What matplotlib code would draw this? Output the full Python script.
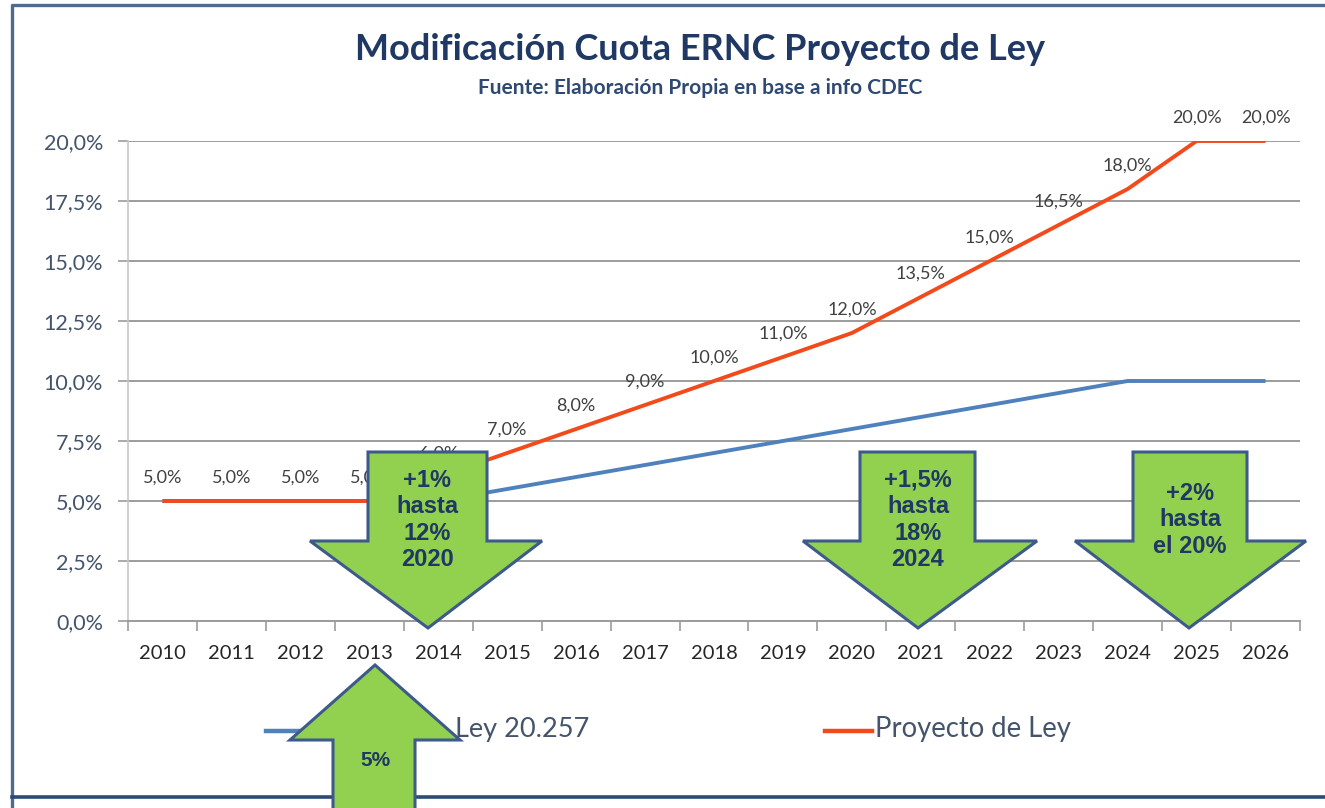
import matplotlib
matplotlib.use("Agg")
import matplotlib.pyplot as plt
from matplotlib.patches import Polygon
from matplotlib.transforms import Affine2D
from matplotlib.lines import Line2D

# ---------------- data ----------------
years = ["2010", "2011", "2012", "2013", "2014", "2015", "2016", "2017", "2018",
         "2019", "2020", "2021", "2022", "2023", "2024", "2025", "2026"]
ley_20257 = [5.0, 5.0, 5.0, 5.0, 5.0, 5.5, 6.0, 6.5, 7.0, 7.5, 8.0, 8.5, 9.0,
             9.5, 10.0, 10.0, 10.0]
proyecto = [5.0, 5.0, 5.0, 5.0, 6.0, 7.0, 8.0, 9.0, 10.0, 11.0, 12.0, 13.5,
            15.0, 16.5, 18.0, 20.0, 20.0]
y_ticks = [0.0, 2.5, 5.0, 7.5, 10.0, 12.5, 15.0, 17.5, 20.0]
series_names = ["Ley 20.257", "Proyecto de Ley"]
title = "Modificación Cuota ERNC Proyecto de Ley"
subtitle = "Fuente: Elaboración Propia en base a info CDEC"
arrow_texts = ["+1%\nhasta\n12%\n2020", "+1,5%\nhasta\n18%\n2024", "+2%\nhasta\nel 20%"]
up_arrow_text = "5%"

W, H = 1325, 808
fig = plt.figure(figsize=(W / 100, H / 100), dpi=100)
fig.patch.set_facecolor("white")

# pixel transform (origin top-left)
px = Affine2D().scale(1 / W, -1 / H).translate(0, 1) + fig.transFigure

FONT = "Lato"
NAVY = "#1F3864"
BLUE = "#4F81BD"
ORANGE = "#F24A1B"
GREEN = "#92D050"
EDGE = "#3D5A8A"
GRID = "#9C9C9C"

ax = fig.add_axes([128 / W, 1 - 621 / H, (1300 - 128) / W, (621 - 141) / H])
x = list(range(len(years)))
ax.plot(x, ley_20257, color=BLUE, lw=2.8, solid_capstyle="butt", zorder=3)
ax.plot(x, proyecto, color=ORANGE, lw=2.8, solid_capstyle="butt", zorder=4)

for xi, v in zip(x, proyecto):
    ax.annotate(f"{v:.1f}%".replace(".", ","), (xi, v), xytext=(0, 17),
                textcoords="offset points", ha="center", va="center",
                fontsize=13, color="#404040", family=FONT, zorder=5)

ax.set_xlim(-0.5, len(years) - 0.5)
ax.set_ylim(0, 20)
ax.set_yticks(y_ticks)
ax.set_yticklabels([f"{t:.1f}%".replace(".", ",") for t in y_ticks],
                   fontsize=15.5, color="#44546A", family=FONT)
ax.set_xticks(x)
ax.set_xticklabels(years, fontsize=14.5, color="#262626", family=FONT)
ax.set_xticks([i - 0.5 for i in range(len(years) + 1)], minor=True)
ax.tick_params(axis="x", which="major", length=0, pad=17)
ax.tick_params(axis="x", which="minor", length=7, color=GRID, width=1.2)
ax.tick_params(axis="y", length=7, color=GRID, width=1.2, pad=11)
ax.yaxis.grid(True, color=GRID, lw=1.4)
ax.set_axisbelow(True)
for s in ["top", "right"]:
    ax.spines[s].set_visible(False)
ax.spines["left"].set_color("#C8C8C8")
ax.spines["left"].set_linewidth(1.2)
ax.spines["bottom"].set_color(GRID)
ax.spines["bottom"].set_linewidth(1.4)

# titles
fig.text(700 / W, 1 - 50 / H, title, ha="center", va="center", fontsize=26,
         fontweight="bold", color=NAVY, family=FONT)
fig.text(700 / W, 1 - 88 / H, subtitle, ha="center", va="center", fontsize=15,
         fontweight="bold", color="#2E4A72", family=FONT)

# legend (manual)
fig.add_artist(Line2D([266, 313], [731, 731], transform=px, color=BLUE, lw=3.2))
fig.text(455 / W, 1 - 729 / H, series_names[0], ha="left", va="center",
         fontsize=19.5, color="#44546A", family=FONT)
fig.add_artist(Line2D([825, 872], [731, 731], transform=px, color=ORANGE, lw=3.2))
fig.text(875 / W, 1 - 729 / H, series_names[1], ha="left", va="center",
         fontsize=19.8, color="#44546A", family=FONT)


def down_arrow(sl, sr, top, hb, hl, hr, tip_x, tip_y):
    pts = [(sl, top), (sr, top), (sr, hb), (hr, hb), (tip_x, tip_y),
           (hl, hb), (sl, hb)]
    fig.add_artist(Polygon(pts, closed=True, transform=px, facecolor=GREEN,
                           edgecolor=EDGE, lw=2.2, zorder=10))


down_arrow(368, 487, 452, 541, 310, 542, 428, 628)
down_arrow(860, 975, 452, 541, 803, 1037, 918, 628)
down_arrow(1133, 1247, 452, 541, 1075, 1306, 1189, 628)

# up arrow
up_pts = [(333, 830), (333, 740), (290, 740), (375, 665), (460, 740),
          (415, 740), (415, 830)]
fig.add_artist(Polygon(up_pts, closed=True, transform=px, facecolor=GREEN,
                       edgecolor=EDGE, lw=2.2, zorder=10))

AFONT = "Liberation Sans"
for cx, cy, t in [(427, 520, arrow_texts[0]), (918, 520, arrow_texts[1]),
                  (1190, 520, arrow_texts[2])]:
    fig.text(cx / W, 1 - cy / H, t, ha="center", va="center", fontsize=17,
             fontweight="bold", color=NAVY, family=AFONT, linespacing=1.2,
             zorder=11)
fig.text(375 / W, 1 - 760 / H, up_arrow_text, ha="center", va="center",
         fontsize=15, fontweight="bold", color=NAVY, family=AFONT, zorder=11)

# frame border
fig.add_artist(Line2D([12, 12, 1330], [808, 5, 5], transform=px,
                      color="#4F6A8F", lw=2.4))
fig.add_artist(Line2D([12, 1330], [797, 797], transform=px,
                      color="#2E4A72", lw=2.6))

fig.savefig("out.png", dpi=100)
